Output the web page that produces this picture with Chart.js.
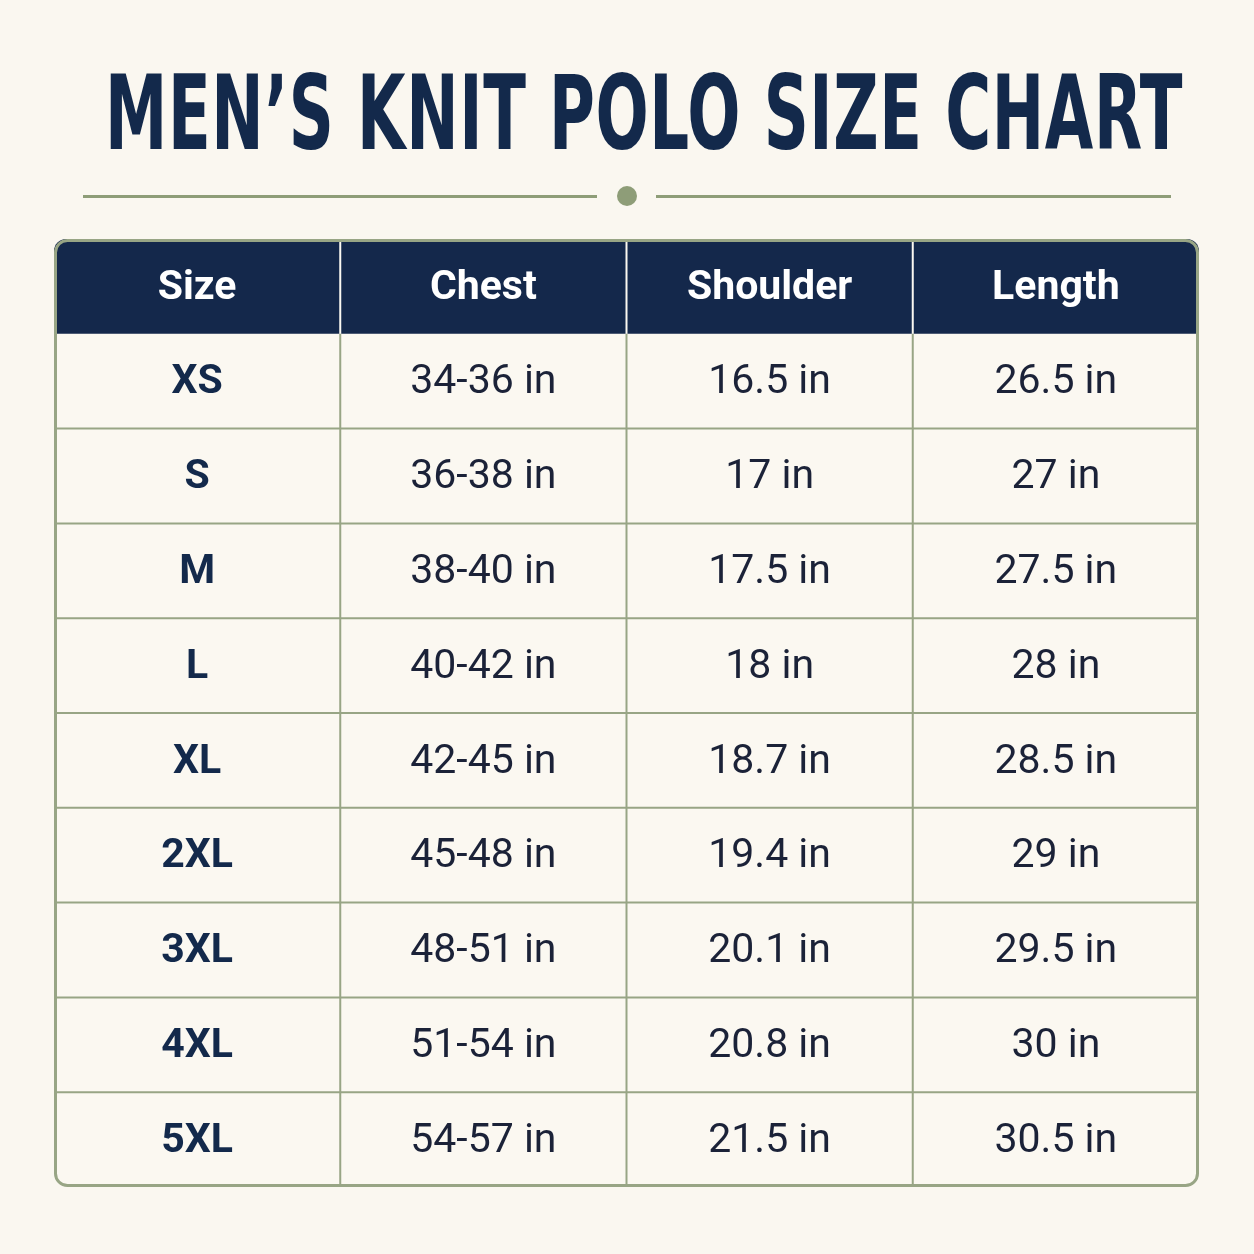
<!DOCTYPE html>
<html>
<head>
<meta charset="utf-8">
<script src="https://cdn.jsdelivr.net/npm/chart.js@4"></script>
<style>
  html, body { margin: 0; padding: 0; background: #faf7f0; }
  body { width: 1254px; height: 1254px; position: relative; overflow: hidden; }
  #title {
    position: absolute; left: 105px; top: 52px; white-space: nowrap;
    font-family: "DejaVu Sans Condensed", "DejaVu Sans"; font-weight: bold;
    font-size: 104px; color: #13294b; transform-origin: 0 0; letter-spacing: 1px;
  }
  .rule { position: absolute; top: 195px; height: 3px; background: #8e9d78; }
  #dot { position: absolute; left: 617px; top: 186px; width: 20px; height: 20px; border-radius: 50%; background: #8e9d78; }
  #wrap { position: absolute; left: 54px; top: 239px; width: 1145px; height: 948px; }
</style>
</head>
<body>
<div id="title">MEN’S KNIT POLO SIZE CHART</div>
<div class="rule" style="left:83px;width:514px"></div>
<div id="dot"></div>
<div class="rule" style="left:656px;width:515px"></div>
<div id="wrap"><canvas id="table"></canvas></div>
<script>
// Table data
const columns = ['Size', 'Chest', 'Shoulder', 'Length'];
const sizes = ['XS', 'S', 'M', 'L', 'XL', '2XL', '3XL', '4XL', '5XL'];
const chest = ['34-36 in', '36-38 in', '38-40 in', '40-42 in', '42-45 in', '45-48 in', '48-51 in', '51-54 in', '54-57 in'];
const shoulder = ['16.5 in', '17 in', '17.5 in', '18 in', '18.7 in', '19.4 in', '20.1 in', '20.8 in', '21.5 in'];
const length = ['26.5 in', '27 in', '27.5 in', '28 in', '28.5 in', '29 in', '29.5 in', '30 in', '30.5 in'];

// fit title to its width
const t = document.getElementById('title');
t.style.transform = 'scaleX(' + (1078 / t.scrollWidth) + ')';

const rows = ['header', ...sizes];
const body = [sizes, chest, shoulder, length];

const tablePlugin = {
    id: 'tableDraw',
    beforeDatasetsDraw(chart) {
        const { ctx, chartArea: a, scales: { x, y } } = chart;
        const cw = a.width / columns.length;
        const rh = a.height / rows.length;
        const r = 12;
        ctx.save();
        // body background + outline
        ctx.beginPath();
        ctx.roundRect(a.left + 1.5, a.top + 1.5, a.width - 3, a.height - 3, r);
        ctx.fillStyle = '#fbf8f1';
        ctx.fill();
        // header
        ctx.beginPath();
        ctx.roundRect(a.left, a.top, a.width, rh, [r, r, 0, 0]);
        ctx.fillStyle = '#14284b';
        ctx.fill();
        // grid lines
        ctx.strokeStyle = '#98a585';
        ctx.lineWidth = 2;
        for (let i = 2; i < rows.length; i++) {
            const yy = y.getPixelForValue(i) - rh / 2;
            ctx.beginPath(); ctx.moveTo(a.left, yy); ctx.lineTo(a.right, yy); ctx.stroke();
        }
        for (let j = 1; j < columns.length; j++) {
            const xx = x.getPixelForValue(j) - cw / 2;
            ctx.strokeStyle = '#98a585';
            ctx.beginPath(); ctx.moveTo(xx, a.top + rh); ctx.lineTo(xx, a.bottom); ctx.stroke();
            ctx.strokeStyle = '#fbf8f1';
            ctx.beginPath(); ctx.moveTo(xx, a.top); ctx.lineTo(xx, a.top + rh); ctx.stroke();
        }
        ctx.strokeStyle = '#98a585';
        ctx.lineWidth = 3;
        ctx.beginPath();
        ctx.roundRect(a.left + 1.5, a.top + 1.5, a.width - 3, a.height - 3, r);
        ctx.stroke();
        // text
        ctx.textAlign = 'center';
        ctx.textBaseline = 'middle';
        columns.forEach((c, j) => {
            ctx.fillStyle = '#ffffff';
            ctx.font = 'bold 41px Roboto';
            ctx.fillText(c, x.getPixelForValue(j), y.getPixelForValue(0) + 2);
            body[j].forEach((v, i) => {
                ctx.fillStyle = j === 0 ? '#13294b' : '#1b2238';
                ctx.font = (j === 0 ? 'bold ' : '') + '41px Roboto';
                ctx.fillText(v, x.getPixelForValue(j), y.getPixelForValue(i + 1) + 2);
            });
        });
        ctx.restore();
    }
};

new Chart(document.getElementById('table'), {
    type: 'bar',
    data: { labels: columns, datasets: [{ data: [] }] },
    options: {
        responsive: true,
        maintainAspectRatio: false,
        animation: false,
        events: [],
        layout: { padding: 0 },
        plugins: { legend: { display: false }, tooltip: { enabled: false } },
        scales: {
            x: { type: 'category', labels: columns, offset: true, display: false },
            y: { type: 'category', labels: rows, offset: true, display: false }
        }
    },
    plugins: [tablePlugin]
});
</script>
</body>
</html>
